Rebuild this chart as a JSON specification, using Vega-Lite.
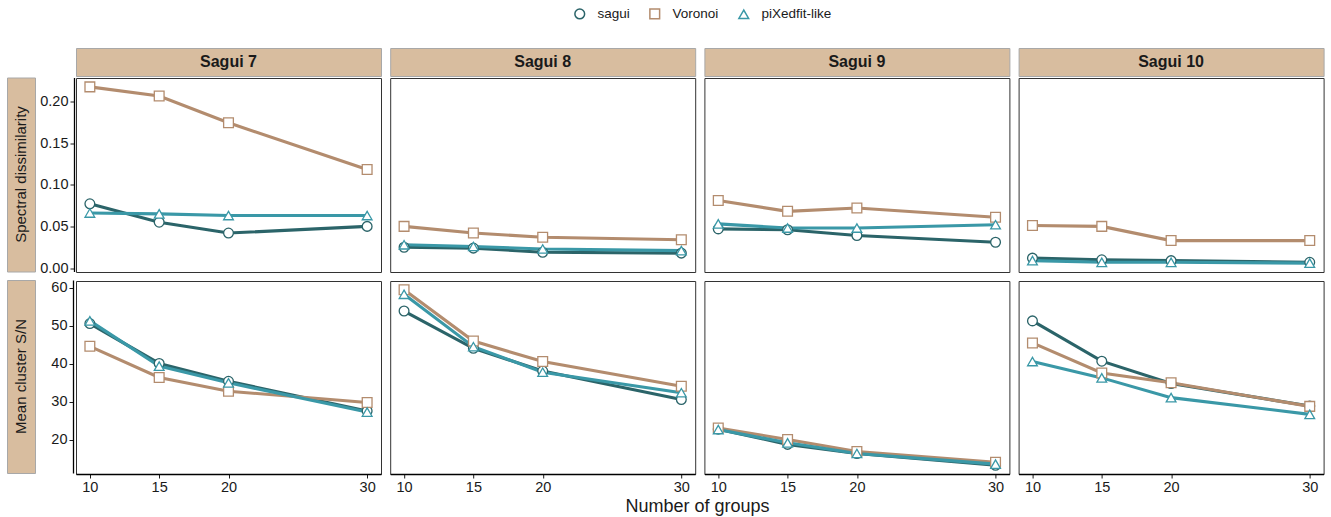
{
  "$schema": "https://vega.github.io/schema/vega-lite/v6.json",
  "padding": {"left": 6, "top": 7, "right": 2, "bottom": 0},
  "config": {
    "font": "Liberation Sans",
    "view": {"stroke": "#333333", "strokeWidth": 1},
    "axis": {"grid": false, "labelFont": "Liberation Sans", "labelFontSize": 14.5, "labelColor": "#1a1a1a", "tickColor": "#1a1a1a", "tickSize": 4, "tickWidth": 1, "domainColor": "#000000", "domainWidth": 1.3, "labelPadding": 2}
  },
  "datasets": {
    "d": [
      {"s":7,"m":"spec","g":"sagui","n":10,"v":0.078},{"s":7,"m":"spec","g":"sagui","n":15,"v":0.056},{"s":7,"m":"spec","g":"sagui","n":20,"v":0.043},{"s":7,"m":"spec","g":"sagui","n":30,"v":0.051},
      {"s":7,"m":"spec","g":"Voronoi","n":10,"v":0.218},{"s":7,"m":"spec","g":"Voronoi","n":15,"v":0.207},{"s":7,"m":"spec","g":"Voronoi","n":20,"v":0.175},{"s":7,"m":"spec","g":"Voronoi","n":30,"v":0.119},
      {"s":7,"m":"spec","g":"piXedfit-like","n":10,"v":0.067},{"s":7,"m":"spec","g":"piXedfit-like","n":15,"v":0.066},{"s":7,"m":"spec","g":"piXedfit-like","n":20,"v":0.064},{"s":7,"m":"spec","g":"piXedfit-like","n":30,"v":0.064},
      {"s":8,"m":"spec","g":"sagui","n":10,"v":0.026},{"s":8,"m":"spec","g":"sagui","n":15,"v":0.025},{"s":8,"m":"spec","g":"sagui","n":20,"v":0.020},{"s":8,"m":"spec","g":"sagui","n":30,"v":0.019},
      {"s":8,"m":"spec","g":"Voronoi","n":10,"v":0.051},{"s":8,"m":"spec","g":"Voronoi","n":15,"v":0.043},{"s":8,"m":"spec","g":"Voronoi","n":20,"v":0.038},{"s":8,"m":"spec","g":"Voronoi","n":30,"v":0.035},
      {"s":8,"m":"spec","g":"piXedfit-like","n":10,"v":0.029},{"s":8,"m":"spec","g":"piXedfit-like","n":15,"v":0.027},{"s":8,"m":"spec","g":"piXedfit-like","n":20,"v":0.024},{"s":8,"m":"spec","g":"piXedfit-like","n":30,"v":0.022},
      {"s":9,"m":"spec","g":"sagui","n":10,"v":0.048},{"s":9,"m":"spec","g":"sagui","n":15,"v":0.047},{"s":9,"m":"spec","g":"sagui","n":20,"v":0.040},{"s":9,"m":"spec","g":"sagui","n":30,"v":0.032},
      {"s":9,"m":"spec","g":"Voronoi","n":10,"v":0.082},{"s":9,"m":"spec","g":"Voronoi","n":15,"v":0.069},{"s":9,"m":"spec","g":"Voronoi","n":20,"v":0.073},{"s":9,"m":"spec","g":"Voronoi","n":30,"v":0.062},
      {"s":9,"m":"spec","g":"piXedfit-like","n":10,"v":0.054},{"s":9,"m":"spec","g":"piXedfit-like","n":15,"v":0.049},{"s":9,"m":"spec","g":"piXedfit-like","n":20,"v":0.049},{"s":9,"m":"spec","g":"piXedfit-like","n":30,"v":0.053},
      {"s":10,"m":"spec","g":"sagui","n":10,"v":0.013},{"s":10,"m":"spec","g":"sagui","n":15,"v":0.011},{"s":10,"m":"spec","g":"sagui","n":20,"v":0.010},{"s":10,"m":"spec","g":"sagui","n":30,"v":0.008},
      {"s":10,"m":"spec","g":"Voronoi","n":10,"v":0.052},{"s":10,"m":"spec","g":"Voronoi","n":15,"v":0.051},{"s":10,"m":"spec","g":"Voronoi","n":20,"v":0.034},{"s":10,"m":"spec","g":"Voronoi","n":30,"v":0.034},
      {"s":10,"m":"spec","g":"piXedfit-like","n":10,"v":0.010},{"s":10,"m":"spec","g":"piXedfit-like","n":15,"v":0.008},{"s":10,"m":"spec","g":"piXedfit-like","n":20,"v":0.008},{"s":10,"m":"spec","g":"piXedfit-like","n":30,"v":0.007},
      {"s":7,"m":"sn","g":"sagui","n":10,"v":50.8},{"s":7,"m":"sn","g":"sagui","n":15,"v":40.3},{"s":7,"m":"sn","g":"sagui","n":20,"v":35.6},{"s":7,"m":"sn","g":"sagui","n":30,"v":27.8},
      {"s":7,"m":"sn","g":"Voronoi","n":10,"v":44.8},{"s":7,"m":"sn","g":"Voronoi","n":15,"v":36.6},{"s":7,"m":"sn","g":"Voronoi","n":20,"v":33.0},{"s":7,"m":"sn","g":"Voronoi","n":30,"v":30.0},
      {"s":7,"m":"sn","g":"piXedfit-like","n":10,"v":51.5},{"s":7,"m":"sn","g":"piXedfit-like","n":15,"v":39.6},{"s":7,"m":"sn","g":"piXedfit-like","n":20,"v":35.2},{"s":7,"m":"sn","g":"piXedfit-like","n":30,"v":27.5},
      {"s":8,"m":"sn","g":"sagui","n":10,"v":54.1},{"s":8,"m":"sn","g":"sagui","n":15,"v":44.3},{"s":8,"m":"sn","g":"sagui","n":20,"v":38.3},{"s":8,"m":"sn","g":"sagui","n":30,"v":30.8},
      {"s":8,"m":"sn","g":"Voronoi","n":10,"v":59.7},{"s":8,"m":"sn","g":"Voronoi","n":15,"v":46.2},{"s":8,"m":"sn","g":"Voronoi","n":20,"v":40.8},{"s":8,"m":"sn","g":"Voronoi","n":30,"v":34.3},
      {"s":8,"m":"sn","g":"piXedfit-like","n":10,"v":58.5},{"s":8,"m":"sn","g":"piXedfit-like","n":15,"v":44.7},{"s":8,"m":"sn","g":"piXedfit-like","n":20,"v":38.0},{"s":8,"m":"sn","g":"piXedfit-like","n":30,"v":32.6},
      {"s":9,"m":"sn","g":"sagui","n":10,"v":23.0},{"s":9,"m":"sn","g":"sagui","n":15,"v":19.0},{"s":9,"m":"sn","g":"sagui","n":20,"v":16.6},{"s":9,"m":"sn","g":"sagui","n":30,"v":13.5},
      {"s":9,"m":"sn","g":"Voronoi","n":10,"v":23.3},{"s":9,"m":"sn","g":"Voronoi","n":15,"v":20.3},{"s":9,"m":"sn","g":"Voronoi","n":20,"v":17.1},{"s":9,"m":"sn","g":"Voronoi","n":30,"v":14.3},
      {"s":9,"m":"sn","g":"piXedfit-like","n":10,"v":22.9},{"s":9,"m":"sn","g":"piXedfit-like","n":15,"v":19.4},{"s":9,"m":"sn","g":"piXedfit-like","n":20,"v":16.6},{"s":9,"m":"sn","g":"piXedfit-like","n":30,"v":13.8},
      {"s":10,"m":"sn","g":"sagui","n":10,"v":51.5},{"s":10,"m":"sn","g":"sagui","n":15,"v":40.9},{"s":10,"m":"sn","g":"sagui","n":20,"v":35.0},{"s":10,"m":"sn","g":"sagui","n":30,"v":29.1},
      {"s":10,"m":"sn","g":"Voronoi","n":10,"v":45.7},{"s":10,"m":"sn","g":"Voronoi","n":15,"v":37.8},{"s":10,"m":"sn","g":"Voronoi","n":20,"v":35.2},{"s":10,"m":"sn","g":"Voronoi","n":30,"v":29.0},
      {"s":10,"m":"sn","g":"piXedfit-like","n":10,"v":40.8},{"s":10,"m":"sn","g":"piXedfit-like","n":15,"v":36.5},{"s":10,"m":"sn","g":"piXedfit-like","n":20,"v":31.3},{"s":10,"m":"sn","g":"piXedfit-like","n":30,"v":26.9}
    ]
  },
  "spacing": 0,
  "hconcat": [
    {
      "spacing": 3.5,
      "vconcat": [
        {"width": 28, "height": 24.5, "data": {"values": [{}]}, "view": {"stroke": null}, "mark": {"type": "text", "text": ""}, "encoding": {}},
        {
          "spacing": 3,
          "hconcat": [
            {"width": 28, "height": 194, "data": {"values": [{"t": "Spectral dissimilarity"}]}, "view": {"fill": "#d8bd9f", "stroke": "#a8a8a8"}, "mark": {"type": "text", "angle": 270, "fontSize": 15, "color": "#1a1a1a"}, "encoding": {"text": {"field": "t"}}},
            {"width": 1, "height": 194, "data": {"name": "d"}, "transform": [{"filter": "datum.m == 'spec'"}], "view": {"stroke": null}, "mark": {"type": "point", "size": 0, "opacity": 0}, "encoding": {"y": {"field": "v", "type": "quantitative", "scale": {"domain": [-0.0036, 0.2286], "nice": false, "zero": false}, "axis": {"values": [0, 0.05, 0.1, 0.15, 0.2], "format": ".2f", "title": null, "minExtent": 34, "maxExtent": 34}}}}
          ]
        },
        {
          "spacing": 3,
          "hconcat": [
            {"width": 28, "height": 193, "data": {"values": [{"t": "Mean cluster S/N"}]}, "view": {"fill": "#d8bd9f", "stroke": "#a8a8a8"}, "mark": {"type": "text", "angle": 270, "fontSize": 15, "color": "#1a1a1a"}, "encoding": {"text": {"field": "t"}}},
            {"width": 1, "height": 193, "data": {"name": "d"}, "transform": [{"filter": "datum.m == 'sn'"}], "view": {"stroke": null}, "mark": {"type": "point", "size": 0, "opacity": 0}, "encoding": {"y": {"field": "v", "type": "quantitative", "scale": {"domain": [11.2, 62.0], "nice": false, "zero": false}, "axis": {"values": [20, 30, 40, 50, 60], "title": null, "minExtent": 34, "maxExtent": 34}}}}
          ]
        }
      ]
    },
    {
      "spacing": 4.2,
      "vconcat": [
        {
          "spacing": 7.2,
          "hconcat": [
            {
              "spacing": 7,
              "vconcat": [
                {
                  "spacing": 0,
                  "vconcat": [
                    {"width": 305, "height": 28, "data": {"values": [{"t": "Sagui 7"}]}, "view": {"fill": "#d8bd9f", "stroke": "#a8a8a8"}, "mark": {"type": "text", "fontSize": 16, "fontWeight": "bold", "color": "#1a1a1a"}, "encoding": {"text": {"field": "t"}}},
                    {
                      "width": 305, "height": 194, "data": {"name": "d"},
                      "transform": [{"filter": "datum.s == 7 && datum.m == 'spec'"}],
                      "encoding": {
                        "x": {"field": "n", "type": "quantitative", "scale": {"domain": [9, 31], "nice": false, "zero": false}, "axis": null},
                        "y": {"field": "v", "type": "quantitative", "scale": {"domain": [-0.0036, 0.2286], "nice": false, "zero": false}, "axis": null}
                      },
                      "layer": [
                        {"mark": {"type": "line", "strokeWidth": 3.1}, "encoding": {"color": {"field": "g", "type": "nominal", "title": null, "scale": {"domain": ["sagui", "Voronoi", "piXedfit-like"], "range": ["#2b6469", "#b38c6e", "#3a98a7"]}, "legend": {"title": null, "orient": "none", "legendX": 566, "legendY": -41, "direction": "horizontal", "labelFontSize": 13.5, "labelColor": "#1a1a1a", "labelOffset": 11, "columnPadding": 16, "symbolSize": 95, "symbolStrokeWidth": 1.5, "symbolFillColor": "white"}}}},
                        {"mark": {"type": "point", "filled": true, "fill": "white", "size": 95, "strokeWidth": 1.3, "opacity": 1},
                         "encoding": {
                           "stroke": {"field": "g", "type": "nominal", "title": null, "scale": {"domain": ["sagui", "Voronoi", "piXedfit-like"], "range": ["#2b6469", "#b38c6e", "#3a98a7"]}, "legend": {"title": null, "orient": "none", "legendX": 566, "legendY": -41, "direction": "horizontal", "labelFontSize": 13.5, "labelColor": "#1a1a1a", "labelOffset": 11, "columnPadding": 16, "symbolSize": 95, "symbolStrokeWidth": 1.5, "symbolFillColor": "white"}},
                           "shape": {"field": "g", "type": "nominal", "title": null, "scale": {"domain": ["sagui", "Voronoi", "piXedfit-like"], "range": ["circle", "square", "triangle-up"]}, "legend": {"title": null, "orient": "none", "legendX": 566, "legendY": -41, "direction": "horizontal", "labelFontSize": 13.5, "labelColor": "#1a1a1a", "labelOffset": 11, "columnPadding": 16, "symbolSize": 95, "symbolStrokeWidth": 1.5, "symbolFillColor": "white"}}
                         }}
                      ]
                    }
                  ]
                },
                {
                  "width": 305, "height": 193, "data": {"name": "d"},
                  "transform": [{"filter": "datum.s == 7 && datum.m == 'sn'"}],
                  "encoding": {
                    "x": {"field": "n", "type": "quantitative", "scale": {"domain": [9, 31], "nice": false, "zero": false}, "axis": {"values": [10, 15, 20, 30], "title": null}},
                    "y": {"field": "v", "type": "quantitative", "scale": {"domain": [11.2, 62.0], "nice": false, "zero": false}, "axis": null}
                  },
                  "layer": [
                    {"mark": {"type": "line", "strokeWidth": 3.1}, "encoding": {"color": {"field": "g", "type": "nominal", "title": null, "scale": {"domain": ["sagui", "Voronoi", "piXedfit-like"], "range": ["#2b6469", "#b38c6e", "#3a98a7"]}}}},
                    {"mark": {"type": "point", "filled": true, "fill": "white", "size": 95, "strokeWidth": 1.3, "opacity": 1},
                     "encoding": {
                       "stroke": {"field": "g", "type": "nominal", "title": null, "scale": {"domain": ["sagui", "Voronoi", "piXedfit-like"], "range": ["#2b6469", "#b38c6e", "#3a98a7"]}},
                       "shape": {"field": "g", "type": "nominal", "title": null, "scale": {"domain": ["sagui", "Voronoi", "piXedfit-like"], "range": ["circle", "square", "triangle-up"]}}
                     }}
                  ]
                }
              ]
            },
            {
              "spacing": 7,
              "vconcat": [
                {
                  "spacing": 0,
                  "vconcat": [
                    {"width": 305, "height": 28, "data": {"values": [{"t": "Sagui 8"}]}, "view": {"fill": "#d8bd9f", "stroke": "#a8a8a8"}, "mark": {"type": "text", "fontSize": 16, "fontWeight": "bold", "color": "#1a1a1a"}, "encoding": {"text": {"field": "t"}}},
                    {
                      "width": 305, "height": 194, "data": {"name": "d"},
                      "transform": [{"filter": "datum.s == 8 && datum.m == 'spec'"}],
                      "encoding": {
                        "x": {"field": "n", "type": "quantitative", "scale": {"domain": [9, 31], "nice": false, "zero": false}, "axis": null},
                        "y": {"field": "v", "type": "quantitative", "scale": {"domain": [-0.0036, 0.2286], "nice": false, "zero": false}, "axis": null}
                      },
                      "layer": [
                        {"mark": {"type": "line", "strokeWidth": 3.1}, "encoding": {"color": {"field": "g", "type": "nominal", "title": null, "scale": {"domain": ["sagui", "Voronoi", "piXedfit-like"], "range": ["#2b6469", "#b38c6e", "#3a98a7"]}}}},
                        {"mark": {"type": "point", "filled": true, "fill": "white", "size": 95, "strokeWidth": 1.3, "opacity": 1},
                         "encoding": {
                           "stroke": {"field": "g", "type": "nominal", "title": null, "scale": {"domain": ["sagui", "Voronoi", "piXedfit-like"], "range": ["#2b6469", "#b38c6e", "#3a98a7"]}},
                           "shape": {"field": "g", "type": "nominal", "title": null, "scale": {"domain": ["sagui", "Voronoi", "piXedfit-like"], "range": ["circle", "square", "triangle-up"]}}
                         }}
                      ]
                    }
                  ]
                },
                {
                  "width": 305, "height": 193, "data": {"name": "d"},
                  "transform": [{"filter": "datum.s == 8 && datum.m == 'sn'"}],
                  "encoding": {
                    "x": {"field": "n", "type": "quantitative", "scale": {"domain": [9, 31], "nice": false, "zero": false}, "axis": {"values": [10, 15, 20, 30], "title": null}},
                    "y": {"field": "v", "type": "quantitative", "scale": {"domain": [11.2, 62.0], "nice": false, "zero": false}, "axis": null}
                  },
                  "layer": [
                    {"mark": {"type": "line", "strokeWidth": 3.1}, "encoding": {"color": {"field": "g", "type": "nominal", "title": null, "scale": {"domain": ["sagui", "Voronoi", "piXedfit-like"], "range": ["#2b6469", "#b38c6e", "#3a98a7"]}}}},
                    {"mark": {"type": "point", "filled": true, "fill": "white", "size": 95, "strokeWidth": 1.3, "opacity": 1},
                     "encoding": {
                       "stroke": {"field": "g", "type": "nominal", "title": null, "scale": {"domain": ["sagui", "Voronoi", "piXedfit-like"], "range": ["#2b6469", "#b38c6e", "#3a98a7"]}},
                       "shape": {"field": "g", "type": "nominal", "title": null, "scale": {"domain": ["sagui", "Voronoi", "piXedfit-like"], "range": ["circle", "square", "triangle-up"]}}
                     }}
                  ]
                }
              ]
            },
            {
              "spacing": 7,
              "vconcat": [
                {
                  "spacing": 0,
                  "vconcat": [
                    {"width": 305, "height": 28, "data": {"values": [{"t": "Sagui 9"}]}, "view": {"fill": "#d8bd9f", "stroke": "#a8a8a8"}, "mark": {"type": "text", "fontSize": 16, "fontWeight": "bold", "color": "#1a1a1a"}, "encoding": {"text": {"field": "t"}}},
                    {
                      "width": 305, "height": 194, "data": {"name": "d"},
                      "transform": [{"filter": "datum.s == 9 && datum.m == 'spec'"}],
                      "encoding": {
                        "x": {"field": "n", "type": "quantitative", "scale": {"domain": [9, 31], "nice": false, "zero": false}, "axis": null},
                        "y": {"field": "v", "type": "quantitative", "scale": {"domain": [-0.0036, 0.2286], "nice": false, "zero": false}, "axis": null}
                      },
                      "layer": [
                        {"mark": {"type": "line", "strokeWidth": 3.1}, "encoding": {"color": {"field": "g", "type": "nominal", "title": null, "scale": {"domain": ["sagui", "Voronoi", "piXedfit-like"], "range": ["#2b6469", "#b38c6e", "#3a98a7"]}}}},
                        {"mark": {"type": "point", "filled": true, "fill": "white", "size": 95, "strokeWidth": 1.3, "opacity": 1},
                         "encoding": {
                           "stroke": {"field": "g", "type": "nominal", "title": null, "scale": {"domain": ["sagui", "Voronoi", "piXedfit-like"], "range": ["#2b6469", "#b38c6e", "#3a98a7"]}},
                           "shape": {"field": "g", "type": "nominal", "title": null, "scale": {"domain": ["sagui", "Voronoi", "piXedfit-like"], "range": ["circle", "square", "triangle-up"]}}
                         }}
                      ]
                    }
                  ]
                },
                {
                  "width": 305, "height": 193, "data": {"name": "d"},
                  "transform": [{"filter": "datum.s == 9 && datum.m == 'sn'"}],
                  "encoding": {
                    "x": {"field": "n", "type": "quantitative", "scale": {"domain": [9, 31], "nice": false, "zero": false}, "axis": {"values": [10, 15, 20, 30], "title": null}},
                    "y": {"field": "v", "type": "quantitative", "scale": {"domain": [11.2, 62.0], "nice": false, "zero": false}, "axis": null}
                  },
                  "layer": [
                    {"mark": {"type": "line", "strokeWidth": 3.1}, "encoding": {"color": {"field": "g", "type": "nominal", "title": null, "scale": {"domain": ["sagui", "Voronoi", "piXedfit-like"], "range": ["#2b6469", "#b38c6e", "#3a98a7"]}}}},
                    {"mark": {"type": "point", "filled": true, "fill": "white", "size": 95, "strokeWidth": 1.3, "opacity": 1},
                     "encoding": {
                       "stroke": {"field": "g", "type": "nominal", "title": null, "scale": {"domain": ["sagui", "Voronoi", "piXedfit-like"], "range": ["#2b6469", "#b38c6e", "#3a98a7"]}},
                       "shape": {"field": "g", "type": "nominal", "title": null, "scale": {"domain": ["sagui", "Voronoi", "piXedfit-like"], "range": ["circle", "square", "triangle-up"]}}
                     }}
                  ]
                }
              ]
            },
            {
              "spacing": 7,
              "vconcat": [
                {
                  "spacing": 0,
                  "vconcat": [
                    {"width": 305, "height": 28, "data": {"values": [{"t": "Sagui 10"}]}, "view": {"fill": "#d8bd9f", "stroke": "#a8a8a8"}, "mark": {"type": "text", "fontSize": 16, "fontWeight": "bold", "color": "#1a1a1a"}, "encoding": {"text": {"field": "t"}}},
                    {
                      "width": 305, "height": 194, "data": {"name": "d"},
                      "transform": [{"filter": "datum.s == 10 && datum.m == 'spec'"}],
                      "encoding": {
                        "x": {"field": "n", "type": "quantitative", "scale": {"domain": [9, 31], "nice": false, "zero": false}, "axis": null},
                        "y": {"field": "v", "type": "quantitative", "scale": {"domain": [-0.0036, 0.2286], "nice": false, "zero": false}, "axis": null}
                      },
                      "layer": [
                        {"mark": {"type": "line", "strokeWidth": 3.1}, "encoding": {"color": {"field": "g", "type": "nominal", "title": null, "scale": {"domain": ["sagui", "Voronoi", "piXedfit-like"], "range": ["#2b6469", "#b38c6e", "#3a98a7"]}}}},
                        {"mark": {"type": "point", "filled": true, "fill": "white", "size": 95, "strokeWidth": 1.3, "opacity": 1},
                         "encoding": {
                           "stroke": {"field": "g", "type": "nominal", "title": null, "scale": {"domain": ["sagui", "Voronoi", "piXedfit-like"], "range": ["#2b6469", "#b38c6e", "#3a98a7"]}},
                           "shape": {"field": "g", "type": "nominal", "title": null, "scale": {"domain": ["sagui", "Voronoi", "piXedfit-like"], "range": ["circle", "square", "triangle-up"]}}
                         }}
                      ]
                    }
                  ]
                },
                {
                  "width": 305, "height": 193, "data": {"name": "d"},
                  "transform": [{"filter": "datum.s == 10 && datum.m == 'sn'"}],
                  "encoding": {
                    "x": {"field": "n", "type": "quantitative", "scale": {"domain": [9, 31], "nice": false, "zero": false}, "axis": {"values": [10, 15, 20, 30], "title": null}},
                    "y": {"field": "v", "type": "quantitative", "scale": {"domain": [11.2, 62.0], "nice": false, "zero": false}, "axis": null}
                  },
                  "layer": [
                    {"mark": {"type": "line", "strokeWidth": 3.1}, "encoding": {"color": {"field": "g", "type": "nominal", "title": null, "scale": {"domain": ["sagui", "Voronoi", "piXedfit-like"], "range": ["#2b6469", "#b38c6e", "#3a98a7"]}}}},
                    {"mark": {"type": "point", "filled": true, "fill": "white", "size": 95, "strokeWidth": 1.3, "opacity": 1},
                     "encoding": {
                       "stroke": {"field": "g", "type": "nominal", "title": null, "scale": {"domain": ["sagui", "Voronoi", "piXedfit-like"], "range": ["#2b6469", "#b38c6e", "#3a98a7"]}},
                       "shape": {"field": "g", "type": "nominal", "title": null, "scale": {"domain": ["sagui", "Voronoi", "piXedfit-like"], "range": ["circle", "square", "triangle-up"]}}
                     }}
                  ]
                }
              ]
            }
          ]
        },
        {"width": 1243, "height": 18, "data": {"values": [{}]}, "view": {"stroke": null}, "mark": {"type": "text", "text": "Number of groups", "fontSize": 18, "color": "#1a1a1a"}, "encoding": {}}
      ]
    }
  ]
}
